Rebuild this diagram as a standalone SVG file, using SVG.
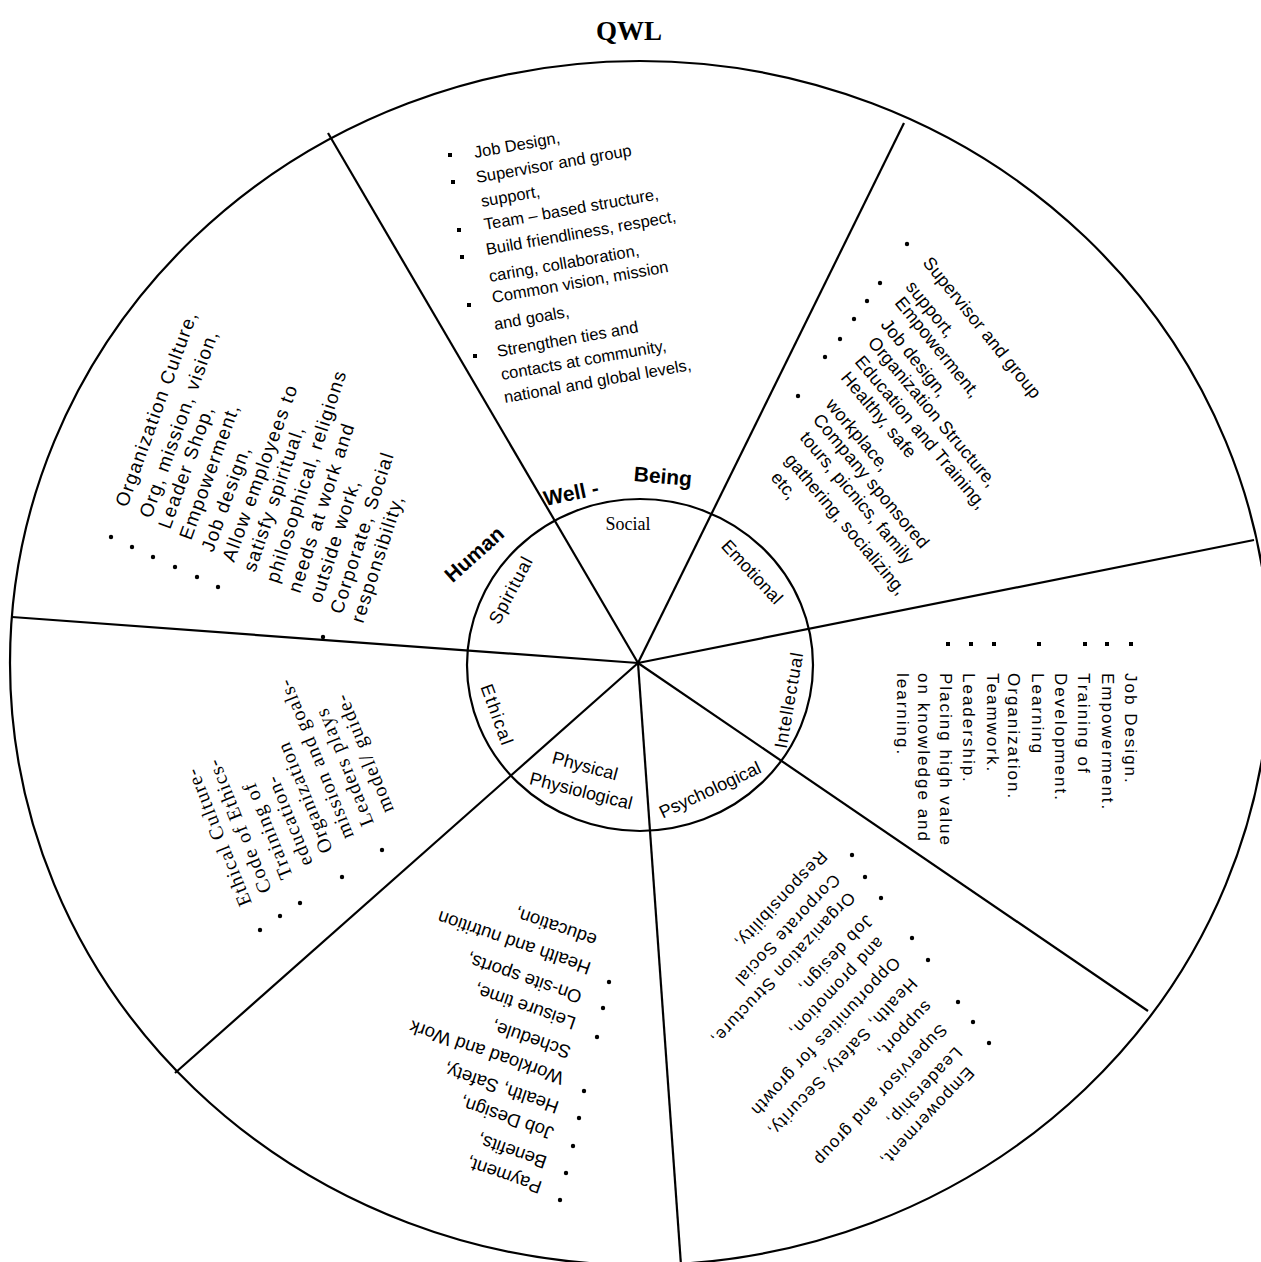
<svg xmlns="http://www.w3.org/2000/svg" width="1261" height="1262" viewBox="0 0 1261 1262">
<style>
.bg{fill:#fff}
.ln{stroke:#000;stroke-width:2.2;fill:none}
.s{font-family:"Liberation Sans",Arial,sans-serif;fill:#000}
.sf{font-family:"Liberation Serif","Times New Roman",serif;fill:#000}
.t1{font-size:16.5px}
.t2{font-size:18px;letter-spacing:0.2px}
.t3{font-size:19px;letter-spacing:1.3px}
.t4{font-size:17px;letter-spacing:2px}
.t5{font-size:17px;letter-spacing:1.2px}
.t6{font-size:18.5px}
.t7{font-size:20px;letter-spacing:1.2px}
.in{font-size:18px}
.hw{font-size:21px;font-weight:bold}
.b{fill:#000}
</style>
<rect class="bg" x="0" y="0" width="1261" height="1262"/>
<text class="sf" x="629" y="40" text-anchor="middle" font-size="27" font-weight="bold">QWL</text>

<g id="connectors">
<ellipse class="ln" cx="640" cy="663" rx="630" ry="602" stroke-width="2.6"/>
<ellipse class="ln" cx="640" cy="665" rx="173" ry="166"/>
<line class="ln" x1="638" y1="663" x2="328" y2="133"/>
<line class="ln" x1="638" y1="663" x2="904" y2="123"/>
<line class="ln" x1="638" y1="663" x2="1254" y2="540"/>
<line class="ln" x1="638" y1="663" x2="1148" y2="1011"/>
<line class="ln" x1="638" y1="663" x2="681" y2="1265"/>
<line class="ln" x1="638" y1="663" x2="175" y2="1073"/>
<line class="ln" x1="638" y1="663" x2="12" y2="617"/>
</g>

<g id="hub-labels">
<text class="s hw" transform="translate(474 554) rotate(-42)" text-anchor="middle" dominant-baseline="central">Human</text>
<text class="s hw" transform="translate(571 493) rotate(-12)" text-anchor="middle" dominant-baseline="central">Well -</text>
<text class="s hw" transform="translate(663 476) rotate(5)" text-anchor="middle" dominant-baseline="central">Being</text>
</g>

<g id="node-social"><text class="sf in" x="628" y="524" text-anchor="middle" dominant-baseline="central">Social</text></g>
<g id="node-emotional"><text class="s in" transform="translate(752 572) rotate(47)" text-anchor="middle" dominant-baseline="central">Emotional</text></g>
<g id="node-intellectual"><text class="s in" transform="translate(789 700) rotate(-80)" text-anchor="middle" dominant-baseline="central" letter-spacing="1">Intellectual</text></g>
<g id="node-psychological"><text class="s in" transform="translate(710 790) rotate(-25)" text-anchor="middle" dominant-baseline="central">Psychological</text></g>
<g id="node-physical">
<text class="s in" transform="translate(585 766) rotate(15)" text-anchor="middle" dominant-baseline="central">Physical</text>
<text class="s in" transform="translate(581 791) rotate(14)" text-anchor="middle" dominant-baseline="central">Physiological</text>
</g>
<g id="node-ethical"><text class="s in" transform="translate(497 715) rotate(70)" text-anchor="middle" dominant-baseline="central" letter-spacing="1.5">Ethical</text></g>
<g id="node-spiritual"><text class="s in" transform="translate(511 590) rotate(-62)" text-anchor="middle" dominant-baseline="central" letter-spacing="1">Spiritual</text></g>

<g id="sector-social">
<text class="s t1" transform="translate(475 158) rotate(-10)">Job Design,</text>
<text class="s t1" transform="translate(477 183) rotate(-10)">Supervisor and group</text>
<text class="s t1" transform="translate(482 207) rotate(-10)">support,</text>
<text class="s t1" transform="translate(485 230) rotate(-10)">Team – based structure,</text>
<text class="s t1" transform="translate(487 255) rotate(-10)">Build friendliness, respect,</text>
<text class="s t1" transform="translate(490 282) rotate(-10)">caring, collaboration,</text>
<text class="s t1" transform="translate(493 303) rotate(-10)">Common vision, mission</text>
<text class="s t1" transform="translate(495 330) rotate(-10)">and goals,</text>
<text class="s t1" transform="translate(498 357) rotate(-10)">Strengthen ties and</text>
<text class="s t1" transform="translate(502 380) rotate(-10)">contacts at community,</text>
<text class="s t1" transform="translate(505 403) rotate(-10)">national and global levels,</text>
<rect class="b" x="448" y="153" width="4" height="4"/>
<rect class="b" x="451" y="180" width="4" height="4"/>
<rect class="b" x="457" y="228" width="4" height="4"/>
<rect class="b" x="460" y="255" width="4" height="4"/>
<rect class="b" x="467" y="303" width="4" height="4"/>
<rect class="b" x="473" y="354" width="4" height="4"/>
</g>

<g id="sector-emotional">
<text class="s t2" transform="translate(922 263) rotate(51)">Supervisor and group</text>
<text class="s t2" transform="translate(905 287) rotate(51)">support,</text>
<text class="s t2" transform="translate(894 303) rotate(51)">Empowerment,</text>
<text class="s t2" transform="translate(880 325) rotate(51)">Job design,</text>
<text class="s t2" transform="translate(867 343) rotate(50)">Organization Structure,</text>
<text class="s t2" transform="translate(854 362) rotate(50)">Education and Training,</text>
<text class="s t2" transform="translate(840 378) rotate(50)">Healthy, safe</text>
<text class="s t2" transform="translate(825 405) rotate(50)">workplace,</text>
<text class="s t2" transform="translate(812 420) rotate(50)">Company sponsored</text>
<text class="s t2" transform="translate(799 438) rotate(50)">tours, picnics, family</text>
<text class="s t2" transform="translate(784 460) rotate(50)">gathering, socializing,</text>
<text class="s t2" transform="translate(770 478) rotate(50)">etc,</text>
<circle class="b" cx="907" cy="244" r="2.2"/>
<circle class="b" cx="880" cy="283" r="2.2"/>
<circle class="b" cx="867" cy="301" r="2.2"/>
<circle class="b" cx="854" cy="319" r="2.2"/>
<circle class="b" cx="840" cy="339" r="2.2"/>
<circle class="b" cx="825" cy="357" r="2.2"/>
<circle class="b" cx="798" cy="396" r="2.2"/>
</g>

<g id="sector-spiritual">
<text class="s t3" transform="translate(127 508) rotate(-70)">Organization Culture,</text>
<text class="s t3" transform="translate(151 519) rotate(-70)">Org, mission, vision,</text>
<text class="s t3" transform="translate(170 530) rotate(-70)">Leader Shop,</text>
<text class="s t3" transform="translate(191 541) rotate(-70)">Empowerment,</text>
<text class="s t3" transform="translate(213 553) rotate(-70)">Job design,</text>
<text class="s t3" transform="translate(234 563) rotate(-70)">Allow employees to</text>
<text class="s t3" transform="translate(255 573) rotate(-71)">satisfy spiritual,</text>
<text class="s t3" transform="translate(278 584) rotate(-72)">philosophical, religions</text>
<text class="s t3" transform="translate(300 594) rotate(-72)">needs at work and</text>
<text class="s t3" transform="translate(321 604) rotate(-72)">outside work,</text>
<text class="s t3" transform="translate(342 615) rotate(-72)">Corporate, Social</text>
<text class="s t3" transform="translate(363 624) rotate(-72)">responsibility,</text>
<circle class="b" cx="111" cy="537" r="2.2"/>
<circle class="b" cx="132" cy="547" r="2.2"/>
<circle class="b" cx="153" cy="557" r="2.2"/>
<circle class="b" cx="175" cy="567" r="2.2"/>
<circle class="b" cx="197" cy="577" r="2.2"/>
<circle class="b" cx="218" cy="587" r="2.2"/>
<circle class="b" cx="323" cy="637" r="2.2"/>
</g>

<g id="sector-intellectual">
<text class="s t4" transform="translate(1125 673) rotate(90)">Job Design.</text>
<text class="s t4" transform="translate(1102 673) rotate(90)">Empowerment.</text>
<text class="s t4" transform="translate(1078 673) rotate(90)">Training of</text>
<text class="s t4" transform="translate(1055 673) rotate(90)">Development.</text>
<text class="s t4" transform="translate(1032 673) rotate(90)">Learning</text>
<text class="s t4" transform="translate(1008 673) rotate(90)">Organization.</text>
<text class="s t4" transform="translate(987 673) rotate(90)">Teamwork.</text>
<text class="s t4" transform="translate(963 673) rotate(90)">Leadership.</text>
<text class="s t4" transform="translate(940 673) rotate(90)">Placing high value</text>
<text class="s t4" transform="translate(918 673) rotate(90)">on knowledge and</text>
<text class="s t4" transform="translate(897 673) rotate(90)">learning.</text>
<rect class="b" x="1129" y="642" width="4" height="4"/>
<rect class="b" x="1105" y="642" width="4" height="4"/>
<rect class="b" x="1083" y="642" width="4" height="4"/>
<rect class="b" x="1037" y="642" width="4" height="4"/>
<rect class="b" x="992" y="642" width="4" height="4"/>
<rect class="b" x="969" y="642" width="4" height="4"/>
<rect class="b" x="946" y="642" width="4" height="4"/>
</g>

<g id="sector-psychological">
<text class="s t5" transform="translate(967 1066) rotate(133)">Empowerment,</text>
<text class="s t5" transform="translate(955 1046) rotate(133)">Leadership,</text>
<text class="s t5" transform="translate(940 1023) rotate(133)">Supervisor and group</text>
<text class="s t5" transform="translate(925 1000) rotate(133)">support,</text>
<text class="s t5" transform="translate(910 977) rotate(133)">Health, Safety, Security,</text>
<text class="s t5" transform="translate(893 956) rotate(133)">Opportunities for growth</text>
<text class="s t5" transform="translate(877 936) rotate(133)">and promotion,</text>
<text class="s t5" transform="translate(866 914) rotate(133)">Job design,</text>
<text class="s t5" transform="translate(848 891) rotate(133)">Organization Structure,</text>
<text class="s t5" transform="translate(833 873) rotate(133)">Corporate Social</text>
<text class="s t5" transform="translate(820 850) rotate(133)">Responsibility,</text>
<circle class="b" cx="852" cy="855" r="2.2"/>
<circle class="b" cx="865" cy="877" r="2.2"/>
<circle class="b" cx="881" cy="898" r="2.2"/>
<circle class="b" cx="912" cy="938" r="2.2"/>
<circle class="b" cx="928" cy="960" r="2.2"/>
<circle class="b" cx="958" cy="1002" r="2.2"/>
<circle class="b" cx="973" cy="1022" r="2.2"/>
<circle class="b" cx="989" cy="1043" r="2.2"/>
</g>

<g id="sector-physical">
<text class="s t6" transform="translate(543 1182) rotate(199)">Payment,</text>
<text class="s t6" transform="translate(548 1157) rotate(199)">Benefits,</text>
<text class="s t6" transform="translate(555 1128) rotate(199)">Job Design,</text>
<text class="s t6" transform="translate(560 1102) rotate(199)">Health, Safety,</text>
<text class="s t6" transform="translate(565 1073) rotate(199)">Workload and Work</text>
<text class="s t6" transform="translate(572 1047) rotate(199)">Schedule,</text>
<text class="s t6" transform="translate(577 1018) rotate(199)">Leisure time,</text>
<text class="s t6" transform="translate(583 992) rotate(199)">On-site sports,</text>
<text class="s t6" transform="translate(592 963) rotate(199)">Health and nutrition</text>
<text class="s t6" transform="translate(598 935) rotate(199)">education,</text>
<circle class="b" cx="560" cy="1200" r="2.2"/>
<circle class="b" cx="566" cy="1173" r="2.2"/>
<circle class="b" cx="573" cy="1146" r="2.2"/>
<circle class="b" cx="579" cy="1118" r="2.2"/>
<circle class="b" cx="584" cy="1091" r="2.2"/>
<circle class="b" cx="597" cy="1037" r="2.2"/>
<circle class="b" cx="603" cy="1008" r="2.2"/>
<circle class="b" cx="609" cy="982" r="2.2"/>
</g>

<g id="sector-ethical">
<text class="sf t7" transform="translate(252 903) rotate(-112)">Ethical Culture-</text>
<text class="sf t7" transform="translate(272 890) rotate(-112)">Code of Ethics-</text>
<text class="sf t7" transform="translate(293 876) rotate(-112)">Training of</text>
<text class="sf t7" transform="translate(313 863) rotate(-112)">education-</text>
<text class="sf t7" transform="translate(333 850) rotate(-112)">Organization</text>
<text class="sf t7" transform="translate(354 836) rotate(-112)">mission and goals-</text>
<text class="sf t7" transform="translate(374 823) rotate(-112)">Leaders plays</text>
<text class="sf t7" transform="translate(394 810) rotate(-112)">model/ guide-</text>
<circle class="b" cx="260" cy="930" r="2.2"/>
<circle class="b" cx="280" cy="916" r="2.2"/>
<circle class="b" cx="300" cy="903" r="2.2"/>
<circle class="b" cx="342" cy="877" r="2.2"/>
<circle class="b" cx="382" cy="850" r="2.2"/>
</g>
</svg>
